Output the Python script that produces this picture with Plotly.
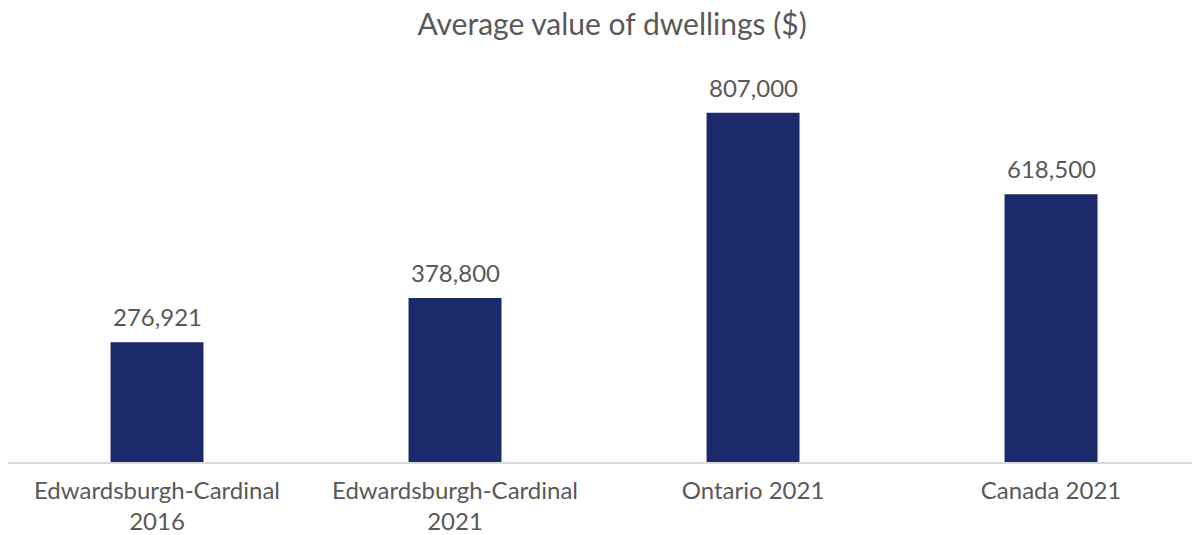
import plotly.graph_objects as go

categories = ["Edwardsburgh-Cardinal<br>2016", "Edwardsburgh-Cardinal<br>2021",
              "Ontario 2021", "Canada 2021"]
values = [276921, 378800, 807000, 618500]

BAR = "#1c2a6b"
TEXT = "#595959"
FONT = "Lato"

fig = go.Figure(go.Bar(
    x=categories,
    y=values,
    marker=dict(color=BAR, line=dict(width=0)),
    hoverinfo="x+y",
))

# value labels above each bar
for cat, v in zip(categories, values):
    fig.add_annotation(
        x=cat, y=v, text=f"{v:,}", showarrow=False,
        xanchor="center", yanchor="bottom", yshift=9,
        font=dict(family=FONT, size=24, color=TEXT),
    )

fig.update_layout(
    width=1192, height=535,
    margin=dict(l=8, r=0, t=60, b=73),
    paper_bgcolor="white", plot_bgcolor="white",
    bargap=0.688,
    showlegend=False,
    title=dict(text="Average value of dwellings ($)", x=0.5135, xanchor="center",
               y=0.955, yanchor="middle",
               font=dict(family=FONT, size=30, color=TEXT)),
    xaxis=dict(range=[-0.5, 3.473], showline=True, linecolor="#d9d9d9", linewidth=2,
               ticks="", tickfont=dict(family=FONT, size=24, color=TEXT),
               ticklabelstandoff=6, automargin=False,
               showgrid=False, zeroline=False),
    yaxis=dict(range=[0, 928750], visible=False, showgrid=False, zeroline=False),
)

fig.write_html("out.html")
